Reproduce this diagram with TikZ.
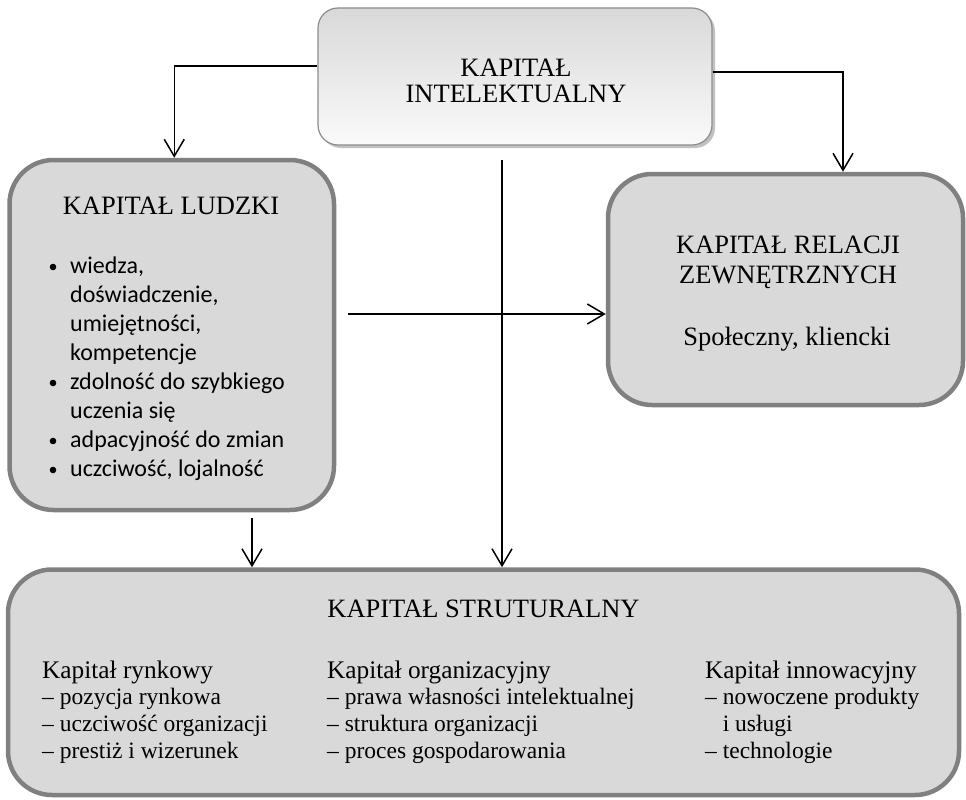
\documentclass[tikz,border=0pt]{standalone}
\usepackage{fontspec}
\setmainfont{Liberation Serif}
\newfontfamily\calib{Carlito}
\usetikzlibrary{arrows.meta,shadows}
\definecolor{boxfill}{HTML}{D9D9D9}
\definecolor{boxline}{HTML}{808080}
\begin{document}
\begin{tikzpicture}[x=1pt,y=-1pt,
  capbox/.style={draw=boxline, line width=4.5pt, fill=boxfill, rounded corners=44pt, inner sep=0pt},
  topbox/.style={draw=black!45, line width=1.2pt, top color=black!15, bottom color=black!2,
    rounded corners=20pt, inner sep=0pt,
    drop shadow={shadow xshift=3pt, shadow yshift=-3pt, opacity=0.35, fill=black!70}},
  arr/.style={line width=1.5pt, -{Straight Barb[length=17pt,width=20pt]}},
  ttl/.style={font=\fontsize{26.5}{28}\selectfont, anchor=base, inner sep=0pt},
  lst/.style={font=\calib\fontsize{24}{29}\selectfont, anchor=base west, inner sep=0pt},
  colh/.style={font=\fontsize{25.3}{27}\selectfont, anchor=base west, inner sep=0pt},
  col/.style={font=\fontsize{23.5}{27}\selectfont, anchor=base west, inner sep=0pt}]
\useasboundingbox (0,0) rectangle (966,800);

% boxes
\node[topbox, minimum width=394pt, minimum height=137pt] (intel) at (515,76.5) {};
\node[capbox, minimum width=324.5pt, minimum height=350pt] (ludzki) at (171.75,335) {};
\node[capbox, minimum width=355pt, minimum height=231pt] (relacji) at (785.5,289.5) {};
\node[capbox, minimum width=951pt, minimum height=225.5pt] (strukt) at (483.5,682.25) {};

% top box text
\node[ttl] (intelA) at (516,76) {KAPITAŁ};
\node[ttl] (intelB) at (516,102) {INTELEKTUALNY};

% left box text
\node[ttl] (ludzkiT) at (171,214) {KAPITAŁ LUDZKI};
\node[lst] (l1) at (70,273) {wiedza,};
\node[lst] (l2) at (70,302) {doświadczenie,};
\node[lst] (l3) at (70,331) {umiejętności,};
\node[lst] (l4) at (70,360) {kompetencje};
\node[lst] (l5) at (70,389) {zdolność do szybkiego};
\node[lst] (l6) at (70,418) {uczenia się};
\node[lst] (l7) at (70,447) {adpacyjność do zmian};
\node[lst] (l8) at (70,476) {uczciwość, lojalność};
\foreach \yy in {273,389,447,476}{\fill (53,\yy-6) circle (3.3pt);}

% right box text
\node[ttl] (relA) at (788,253) {KAPITAŁ RELACJI};
\node[ttl] (relB) at (788,283) {ZEWNĘTRZNYCH};
\node[ttl] (relC) at (787,345) {Społeczny, kliencki};

% bottom box text
\node[ttl] (strT) at (483.5,617) {KAPITAŁ STRUTURALNY};
\node[colh] (a1) at (42,678) {Kapitał rynkowy};
\node[col] (a2) at (42,704.7) {– pozycja rynkowa};
\node[col] (a3) at (42,731.3) {– uczciwość organizacji};
\node[col] (a4) at (42,758) {– prestiż i wizerunek};
\node[colh] (b1) at (327,678) {Kapitał organizacyjny};
\node[col] (b2) at (327,704.7) {– prawa własności intelektualnej};
\node[col] (b3) at (327,731.3) {– struktura organizacji};
\node[col] (b4) at (327,758) {– proces gospodarowania};
\node[colh] (c1) at (705,678) {Kapitał innowacyjny};
\node[col] (c2) at (705,704.7) {– nowoczene produkty};
\node[col] (c3) at (705,731.3) {\phantom{–\ }i usługi};
\node[col] (c4) at (705,758) {– technologie};

% connectors
\coordinate (cstart) at (502,160);
\coordinate (hstart) at (348,314);
\coordinate (lstart) at (252,518);
\draw[arr] ([yshift=10.5pt]intel.west) -| ([xshift=2.5pt]ludzki.north);
\draw[arr] ([yshift=4.5pt]intel.east) -| ([xshift=57.5pt]relacji.north);
\draw[arr] (cstart) -- (cstart |- strukt.north);
\draw[arr] (hstart) -- (hstart -| relacji.west);
\draw[arr] (lstart) -- (lstart |- strukt.north);
\end{tikzpicture}
\end{document}
